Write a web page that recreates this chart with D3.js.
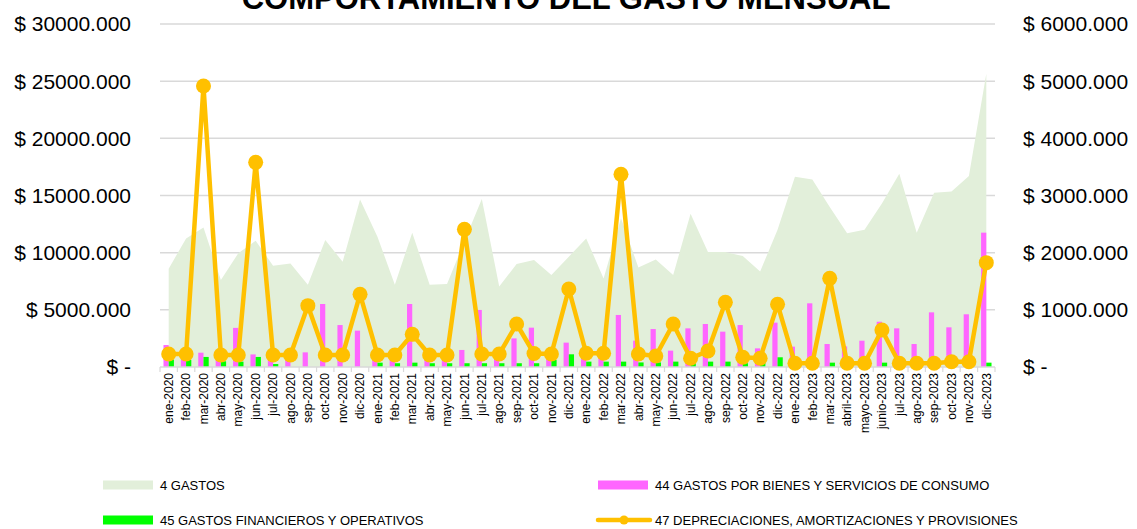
<!DOCTYPE html>
<html><head><meta charset="utf-8">
<script src="https://cdn.jsdelivr.net/npm/d3@7"></script>
<style>body{margin:0;background:#fff}svg{display:block}text{font-family:"Liberation Sans",Arial,sans-serif}</style>
</head><body><svg id="c" width="1137" height="529"></svg>
<script>
const months = ["ene-2020","feb-2020","mar-2020","abr-2020","may-2020","jun-2020","jul-2020","ago-2020","sep-2020","oct-2020","nov-2020","dic-2020",
"ene-2021","feb-2021","mar-2021","abr-2021","may-2021","jun-2021","jul-2021","ago-2021","sep-2021","oct-2021","nov-2021","dic-2021",
"ene-2022","feb-2022","mar-2022","abr-2022","may-2022","jun-2022","jul-2022","ago-2022","sep-2022","oct-2022","nov-2022","dic-2022",
"ene-2023","feb-2023","mar-2023","abril-2023","mayo-2023","junio-2023","jul-2023","ago-2023","sep-2023","oct-2023","nov-2023","dic-2023"];
const gastos4 = [8600,11250,12200,7600,9950,11050,8850,9050,7200,11100,9200,14650,
11400,7200,11750,7200,7250,11000,14700,7050,9000,9350,8050,9650,
11250,7750,13000,8700,9400,8050,13400,10050,10050,9700,8350,12000,
16650,16400,14000,11700,12000,14300,16900,11750,15250,15350,16700,25650];
const bienes44 = [1920,1500,1250,1200,3420,1100,1000,1100,1280,5510,3670,3180,
1200,1000,5510,1000,1100,1490,4990,1200,2500,3440,1200,2130,
1500,1500,4550,2300,3320,1430,3380,3760,3090,3670,1630,3880,
1780,5570,2010,1800,2300,3960,3380,2010,4780,3470,4610,11750];
const financieros45 = [650,620,880,500,470,880,260,0,0,0,0,0,
380,330,380,330,330,330,330,330,330,330,610,1110,
470,470,470,400,400,470,400,470,470,330,400,850,
0,0,380,0,0,380,0,0,0,0,0,380];
const depre47 = [227,227,4915,210,210,3580,210,210,1073,210,210,1271,
210,210,571,210,210,2408,227,227,752,236,227,1364,
240,240,3370,227,192,752,152,280,1131,170,152,1096,
65,65,1551,65,65,647,65,65,65,93,93,1825];
const leftTicks = [0,5000,10000,15000,20000,25000,30000];
const rightTicks = [0,1000,2000,3000,4000,5000,6000];
const seriesNames = ["4 GASTOS","44 GASTOS POR BIENES Y SERVICIOS DE CONSUMO","45 GASTOS FINANCIEROS Y OPERATIVOS","47 DEPRECIACIONES, AMORTIZACIONES Y PROVISIONES"];
const title = "COMPORTAMIENTO DEL GASTO MENSUAL";

const colors = {area:"#E2EFDA", b44:"#FF66FF", b45:"#00FF00", line:"#FFC000", grid:"#D9D9D9"};
const L=160, R=995, T=24, B=367;
const svg = d3.select("#c");
const x = d3.scaleBand().domain(months).range([L,R]).padding(0);
const yL = d3.scaleLinear().domain([0,30000]).range([B,T]);
const yR = d3.scaleLinear().domain([0,6000]).range([B,T]);
const cx = m => x(m)+x.bandwidth()/2;
const fmt = v => v===0 ? "$ -" : "$ " + d3.format(".3f")(v);

// gridlines
svg.append("g").selectAll("line").data(leftTicks.slice(1)).join("line")
  .attr("x1",L).attr("x2",R).attr("y1",d=>yL(d)).attr("y2",d=>yL(d))
  .attr("stroke",colors.grid).attr("stroke-width",1.5);

// area
const area = d3.area().x((d,i)=>cx(months[i])).y0(yL(0)).y1(d=>yL(d));
svg.append("path").datum(gastos4).attr("d",area).attr("fill",colors.area);

// bars
const bw = x.bandwidth()*0.3;
svg.append("g").selectAll("rect").data(bienes44).join("rect")
  .attr("x",(d,i)=>cx(months[i])-bw).attr("width",bw)
  .attr("y",d=>yL(d)).attr("height",d=>yL(0)-yL(d)).attr("fill",colors.b44);
svg.append("g").selectAll("rect").data(financieros45).join("rect")
  .attr("x",(d,i)=>cx(months[i])).attr("width",bw)
  .attr("y",d=>yL(d)).attr("height",d=>yL(0)-yL(d)).attr("fill",colors.b45);

// x axis line & ticks
svg.append("line").attr("x1",L).attr("x2",R).attr("y1",B).attr("y2",B).attr("stroke",colors.grid).attr("stroke-width",1.5);
svg.append("g").selectAll("line").data(months.map(m=>x(m)).concat([R])).join("line")
  .attr("x1",d=>d).attr("x2",d=>d).attr("y1",B).attr("y2",B+5).attr("stroke",colors.grid).attr("stroke-width",1.2);

// line series
const line = d3.line().x((d,i)=>cx(months[i])).y(d=>yR(d));
svg.append("path").datum(depre47).attr("d",line).attr("fill","none")
  .attr("stroke",colors.line).attr("stroke-width",4.5).attr("stroke-linejoin","round");
svg.append("g").selectAll("circle").data(depre47).join("circle")
  .attr("cx",(d,i)=>cx(months[i])).attr("cy",d=>yR(d)).attr("r",7.5).attr("fill",colors.line);

// axes labels
svg.append("g").selectAll("text").data(leftTicks).join("text")
  .attr("x",131).attr("y",d=>yL(d)).attr("dy","0.35em").attr("text-anchor","end")
  .attr("font-size",21).attr("fill","#000").text(fmt);
svg.append("g").selectAll("text").data(rightTicks).join("text")
  .attr("x",1023).attr("y",d=>yR(d)).attr("dy","0.35em").attr("text-anchor","start")
  .attr("font-size",21).attr("fill","#000").text(fmt);
svg.append("g").selectAll("text").data(months).join("text")
  .attr("transform",m=>`translate(${cx(m)},373) rotate(-90)`).attr("dy","0.35em")
  .attr("text-anchor","end").attr("font-size",12).attr("fill","#000").text(m=>m);

// title (cut off at the top edge, as in the reference)
svg.append("text").attr("x",566).attr("y",9).attr("text-anchor","middle")
  .attr("font-size",31).attr("font-weight","bold").attr("font-family","Liberation Sans, Arial").text(title);

// legend
const leg = [
  {name:seriesNames[0], type:"rect", color:colors.area, x:103, y:485},
  {name:seriesNames[1], type:"rect", color:colors.b44, x:598, y:485},
  {name:seriesNames[2], type:"rect", color:colors.b45, x:103, y:520},
  {name:seriesNames[3], type:"line", color:colors.line, x:598, y:520}
];
const lg = svg.append("g").selectAll("g").data(leg).join("g").attr("transform",d=>`translate(${d.x},${d.y})`);
lg.filter(d=>d.type==="rect").append("rect").attr("x",0).attr("y",-4.5).attr("width",50).attr("height",9).attr("fill",d=>d.color);
lg.filter(d=>d.type==="line").append("line").attr("x1",0).attr("x2",52).attr("y1",0).attr("y2",0).attr("stroke",d=>d.color).attr("stroke-width",4.5).attr("stroke-linecap","round");
lg.filter(d=>d.type==="line").append("circle").attr("cx",26).attr("cy",0).attr("r",4.5).attr("fill",d=>d.color);
lg.append("text").attr("x",57).attr("y",0).attr("dy","0.35em").attr("font-size",13).attr("fill","#000").text(d=>d.name);
</script></body></html>
